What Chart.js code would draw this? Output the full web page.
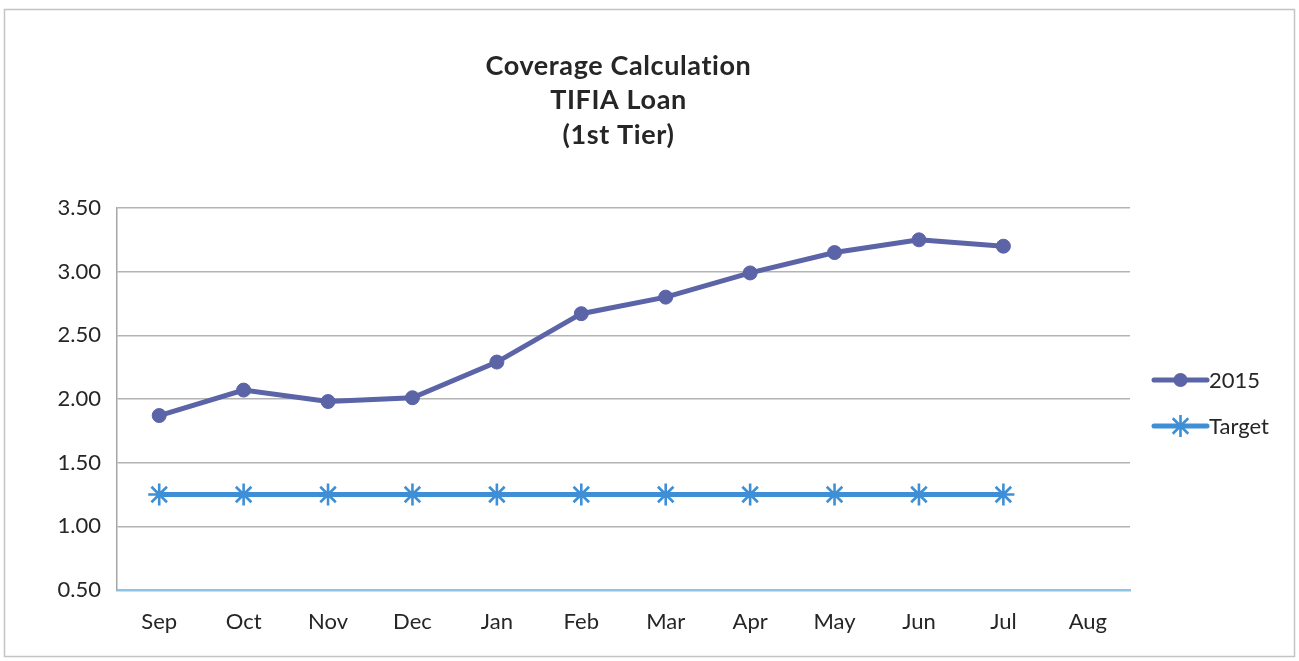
<!DOCTYPE html>
<html>
<head>
<meta charset="utf-8">
<title>Coverage Calculation – TIFIA Loan (1st Tier)</title>
<script src="https://cdn.jsdelivr.net/npm/chart.js@4.4.1/dist/chart.umd.min.js"></script>
<style>
  html, body { margin: 0; padding: 0; background: #ffffff; }
  #wrap { position: relative; width: 1299px; height: 661px; }
</style>
</head>
<body>
<div id="wrap"><canvas id="chart" width="1299" height="661"></canvas></div>
<script>
// Monthly coverage ratios, fiscal year Sep–Aug
const months = ['Sep', 'Oct', 'Nov', 'Dec', 'Jan', 'Feb', 'Mar', 'Apr', 'May', 'Jun', 'Jul', 'Aug'];
const coverage2015 = [1.87, 2.07, 1.98, 2.01, 2.29, 2.67, 2.80, 2.99, 3.15, 3.25, 3.20, null];
const targetRatio = [1.25, 1.25, 1.25, 1.25, 1.25, 1.25, 1.25, 1.25, 1.25, 1.25, 1.25, null];
const yTicks = [0.50, 1.00, 1.50, 2.00, 2.50, 3.00, 3.50];
const titleLines = ['Coverage Calculation', 'TIFIA Loan', '(1st Tier)'];

const FONT = 'Lato, "Open Sans", "DejaVu Sans", sans-serif';
const TEXT = '#262626';
const C2015 = '#5a64a6';
const CTARGET = '#3f8fd6';

// Frame, title and the line+marker legend drawn onto the same canvas
const decorations = {
  id: 'decorations',
  beforeDraw(chart) {
    const ctx = chart.ctx;
    ctx.save();
    ctx.fillStyle = '#ffffff';
    ctx.fillRect(0, 0, chart.width, chart.height);
    ctx.strokeStyle = '#c4c4c4';
    ctx.lineWidth = 1.5;
    ctx.strokeRect(4.5, 9.5, 1290, 647);
    ctx.restore();
  },
  afterDraw(chart) {
    const ctx = chart.ctx;
    const area = chart.chartArea;
    ctx.save();
    // title
    ctx.fillStyle = TEXT;
    ctx.font = 'bold 27px ' + FONT;
    if ('letterSpacing' in ctx) ctx.letterSpacing = '0.6px';
    ctx.textAlign = 'center';
    ctx.textBaseline = 'middle';
    const cx = (area.left + area.right) / 2 - 5;
    titleLines.forEach((t, i) => ctx.fillText(t, cx, 66 + i * 34.5));
    if ('letterSpacing' in ctx) ctx.letterSpacing = '0px';

    // legend
    const rows = [380, 426];
    chart.data.datasets.forEach((ds, i) => {
      const y = rows[i];
      const x0 = 1154, x1 = 1207, xm = (x0 + x1) / 2;
      ctx.strokeStyle = ds.borderColor;
      ctx.lineWidth = ds.borderWidth;
      ctx.lineCap = 'round';
      ctx.beginPath();
      ctx.moveTo(x0, y);
      ctx.lineTo(x1, y);
      ctx.stroke();
      ctx.lineCap = 'butt';
      if (ds.pointStyle === 'circle') {
        ctx.fillStyle = ds.pointBackgroundColor;
        ctx.beginPath();
        ctx.arc(xm, y, ds.pointRadius, 0, Math.PI * 2);
        ctx.fill();
      } else {
        ctx.strokeStyle = ds.pointBorderColor;
        ctx.lineWidth = ds.pointBorderWidth;
        Chart.helpers.drawPoint(ctx, { pointStyle: ds.pointStyle, radius: ds.pointRadius, borderWidth: ds.pointBorderWidth, rotation: 0 }, xm, y);
      }
      ctx.fillStyle = TEXT;
      ctx.font = '22px ' + FONT;
      ctx.textAlign = 'left';
      ctx.textBaseline = 'middle';
      ctx.fillText(ds.label, x1 + 2, y + 1);
    });
    ctx.restore();
  }
};

new Chart(document.getElementById('chart'), {
  type: 'line',
  data: {
    labels: months,
    datasets: [
      {
        label: '2015',
        data: coverage2015,
        borderColor: C2015,
        backgroundColor: C2015,
        borderWidth: 5,
        pointStyle: 'circle',
        pointRadius: 7,
        pointBackgroundColor: C2015,
        pointBorderColor: C2015,
        pointBorderWidth: 1,
        tension: 0
      },
      {
        label: 'Target',
        data: targetRatio,
        borderColor: CTARGET,
        backgroundColor: CTARGET,
        borderWidth: 5,
        pointStyle: 'star',
        pointRadius: 11,
        pointBackgroundColor: CTARGET,
        pointBorderColor: CTARGET,
        pointBorderWidth: 2.6,
        tension: 0
      }
    ]
  },
  options: {
    responsive: false,
    animation: false,
    layout: { padding: { left: 0, right: 169, top: 208, bottom: 0 } },
    plugins: {
      legend: { display: false },
      title: { display: false },
      tooltip: { enabled: false }
    },
    scales: {
      x: {
        offset: true,
        grid: { display: false, drawTicks: false },
        border: { display: true, color: '#8cc4e8', width: 2.5 },
        ticks: { color: TEXT, font: { family: FONT, size: 22 }, padding: 19, maxRotation: 0 },
        afterFit(scale) { scale.height = 71; }
      },
      y: {
        min: 0.5,
        max: 3.5,
        afterBuildTicks(scale) { scale.ticks = yTicks.map(v => ({ value: v })); },
        grid: { color: '#b3b3b3', lineWidth: 1.5, drawTicks: false },
        border: { display: true, color: '#a6a6a6', width: 1.5 },
        ticks: {
          color: TEXT,
          font: { family: FONT, size: 22 },
          padding: 16,
          callback: v => Number(v).toFixed(2)
        },
        afterFit(scale) { scale.width = 117; }
      }
    }
  },
  plugins: [decorations]
});
</script>
</body>
</html>
